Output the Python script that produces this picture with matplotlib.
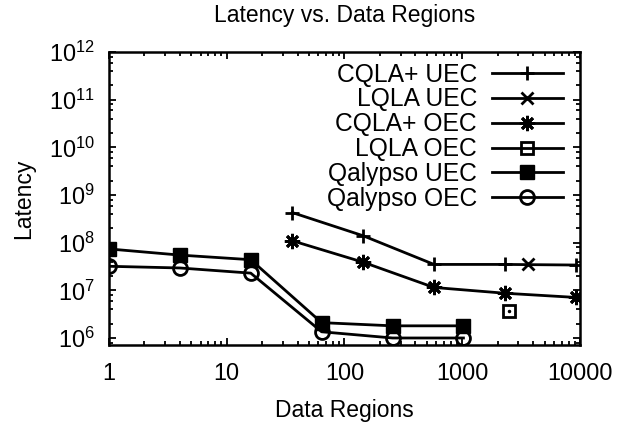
import numpy as np
import matplotlib
matplotlib.use("Agg")
from matplotlib import pyplot as plt
from matplotlib.ticker import (LogLocator, NullFormatter, FixedLocator,
                               FixedFormatter, LogFormatterSciNotation)

plt.rcParams['font.family'] = ['Liberation Sans', 'DejaVu Sans']
plt.rcParams['mathtext.fontset'] = 'custom'
plt.rcParams['mathtext.rm'] = 'Liberation Sans'
plt.rcParams['mathtext.it'] = 'Liberation Sans'
plt.rcParams['font.size'] = 16.8

# data
cqla_uec_x = [36, 144, 576, 2304, 9216]
cqla_uec_y = [4.3e8, 1.4e8, 3.5e7, 3.5e7, 3.4e7]

lqla_uec_x = [3600]
lqla_uec_y = [3.5e7]

cqla_oec_x = [36, 144, 576, 2304, 9216]
cqla_oec_y = [1.1e8, 3.9e7, 1.15e7, 8.7e6, 7.1e6]

lqla_oec_x = [2500]
lqla_oec_y = [3.7e6]

qal_uec_x = [1, 4, 16, 64, 256, 1024]
qal_uec_y = [7.4e7, 5.5e7, 4.4e7, 2.1e6, 1.8e6, 1.8e6]

qal_oec_x = [1, 4, 16, 64, 256, 1024]
qal_oec_y = [3.2e7, 2.95e7, 2.3e7, 1.35e6, 1.0e6, 1.0e6]

xticks = [1, 10, 100, 1000, 10000]
xtick_labels = ["1", "10", "100", "1000", "10000"]
yticks = [1e6, 1e7, 1e8, 1e9, 1e10, 1e11, 1e12]

fig = plt.figure(figsize=(6.37, 4.24), dpi=100)
ax = fig.add_axes([0.171, 0.186, 0.7395, 0.691])

lw = 2
ax.plot(cqla_uec_x, cqla_uec_y, color='k', lw=lw, marker='+', ms=10, mew=2, label='CQLA+ UEC')
ax.plot(lqla_uec_x, lqla_uec_y, color='k', lw=lw, marker='x', ms=8, mew=2, label='LQLA UEC')
ax.plot(cqla_oec_x, cqla_oec_y, color='k', lw=lw, marker=(8, 2, 0), ms=11, mew=2, label='CQLA+ OEC')
ax.plot(lqla_oec_x, lqla_oec_y, color='k', lw=lw, marker='s', ms=9, mew=2, mfc='none', label='LQLA OEC')
ax.plot(lqla_oec_x, lqla_oec_y, color='k', ls='none', marker='.', ms=3)
ax.plot(qal_uec_x, qal_uec_y, color='k', lw=lw, marker='s', ms=10, label='Qalypso UEC')
ax.plot(qal_oec_x, qal_oec_y, color='k', lw=lw, marker='o', ms=10, mew=2, mfc='none', label='Qalypso OEC')

ax.set_xscale('log')
ax.set_yscale('log')
ax.set_xlim(1, 10000)
ax.set_ylim(10 ** 5.85, 1e12)

ax.xaxis.set_major_locator(FixedLocator(xticks))
ax.xaxis.set_major_formatter(FixedFormatter(xtick_labels))
ax.xaxis.set_minor_locator(LogLocator(base=10, subs=np.arange(2, 10)))
ax.xaxis.set_minor_formatter(NullFormatter())
ax.yaxis.set_major_locator(FixedLocator(yticks))
ax.yaxis.set_major_formatter(LogFormatterSciNotation())
ax.yaxis.set_minor_locator(LogLocator(base=10, subs=(2, 4, 6, 8), numticks=20))
ax.yaxis.set_minor_formatter(NullFormatter())

ax.tick_params(which='both', direction='in', top=True, right=True, width=1.3)
ax.tick_params(axis='x', which='major', length=5, pad=12)
ax.tick_params(axis='y', which='major', length=5, pad=10)
ax.tick_params(which='minor', length=3)
for s in ax.spines.values():
    s.set_linewidth(1.8)

ax.set_title("Latency vs. Data Regions", fontsize=16.5, pad=21.5)
ax.set_xlabel("Data Regions", fontsize=16.5, labelpad=10)
ax.set_ylabel("Latency", fontsize=16.5, labelpad=10.5)

ax.legend(loc='upper right', bbox_to_anchor=(0.9796, 0.9894), frameon=False,
          markerfirst=False, handlelength=2.9, handletextpad=0.6,
          labelspacing=0.035, borderaxespad=0, borderpad=0.3, fontsize=17.7)

plt.savefig("out.png", dpi=100)
